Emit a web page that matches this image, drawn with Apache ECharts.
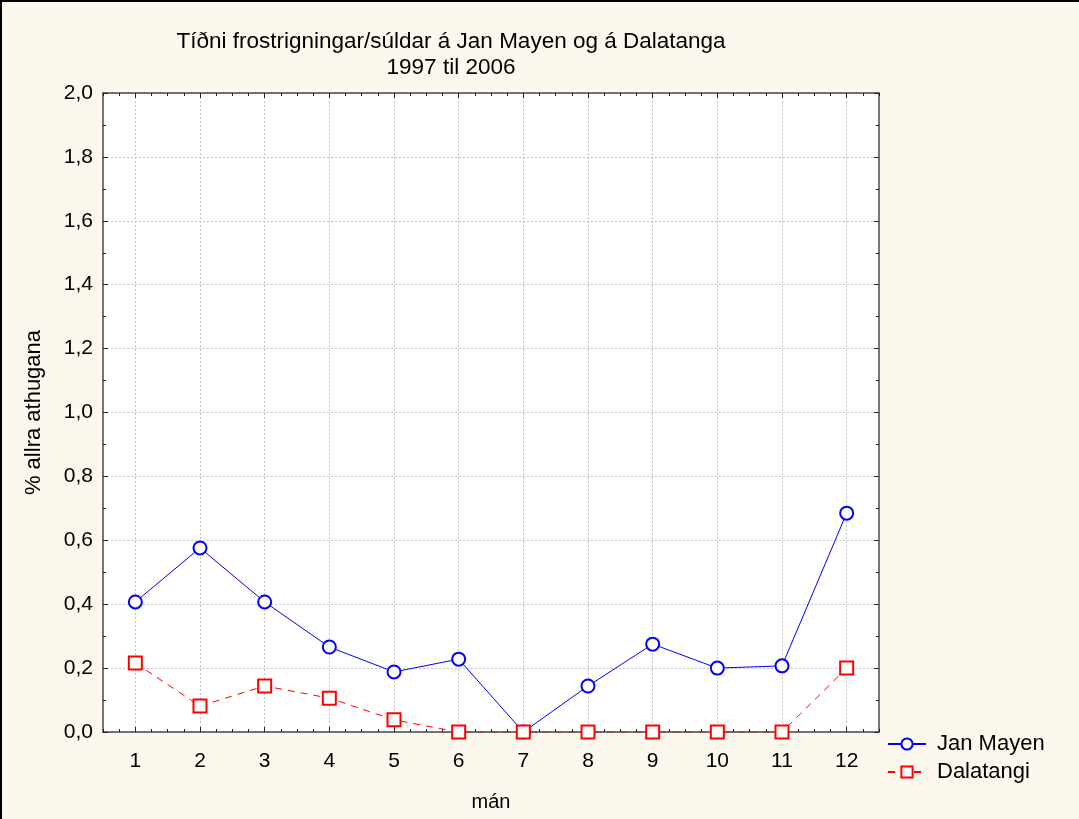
<!DOCTYPE html>
<html lang="is">
<head>
    <meta charset="UTF-8">
    <title>Tíðni frostrigningar/súldar</title>
    <style>
        html, body { margin: 0; padding: 0; background: #fdf8ee; }
        #chart {
            width: 1077px; /* 2px taken by the border */
            height: 817px;
            border-left: 2px solid #000;
            border-top: 2px solid #000;
        }
    </style>
    <script src="https://cdn.jsdelivr.net/npm/echarts@6.0.0/dist/echarts.min.js"></script>
</head>
<body>
    <div id="chart"></div>

    <script type="text/javascript">
        // mánuðir 1-12
        var months = [1, 2, 3, 4, 5, 6, 7, 8, 9, 10, 11, 12];
        // % allra athugana, lesið af myndinni
        var janMayen = [0.407, 0.576, 0.407, 0.266, 0.188, 0.228, 0.0, 0.144, 0.275, 0.200, 0.207, 0.685];
        var dalatangi = [0.216, 0.081, 0.144, 0.106, 0.038, 0.0, 0.0, 0.0, 0.0, 0.0, 0.0, 0.200];

        var fontFam = '"Liberation Sans", Arial, sans-serif';
        var axisColor = '#4a4a4a';

        function pairs(vals) {
            return months.map(function (m, i) { return [m, vals[i]]; });
        }

        // major ticks / labels at the months, minor ticks every quarter
        function monthAxis(pos, showLabels) {
            return {
                type: 'value', position: pos, min: 0.5, max: 12.5,
                axisLine: { show: true, lineStyle: { color: axisColor, width: 1.5 } },
                axisTick: { show: true, inside: true, length: 5, customValues: months,
                            lineStyle: { color: '#222', width: 1 } },
                axisLabel: { show: showLabels, customValues: months, margin: 19,
                             fontSize: 21, color: '#000', fontFamily: fontFam },
                splitLine: { show: showLabels, lineStyle: { color: '#c4c4c4', type: [2, 2], width: 1 } },
                name: showLabels ? 'mán' : '', nameLocation: 'middle', nameGap: 60,
                nameTextStyle: { fontSize: 20, color: '#000', fontFamily: fontFam }
            };
        }
        function minorAxis(pos) {
            return {
                type: 'value', position: pos, min: 0.5, max: 12.5, interval: 0.25,
                axisLine: { show: false },
                axisTick: { show: true, inside: true, length: 3, lineStyle: { color: '#222', width: 1 } },
                axisLabel: { show: false },
                splitLine: { show: false }
            };
        }
        function valueAxis(pos, main) {
            return {
                type: 'value', position: pos, min: 0, max: 2, interval: 0.2,
                axisLine: { show: true, lineStyle: { color: axisColor, width: 1.5 } },
                axisTick: { show: true, inside: true, length: 5, lineStyle: { color: '#222', width: 1 } },
                minorTick: { show: true, splitNumber: 2, length: 3, lineStyle: { color: '#222', width: 1 } },
                axisLabel: {
                    show: main, margin: 10, fontSize: 21, color: '#000', fontFamily: fontFam,
                    formatter: function (v) { return v.toFixed(1).replace('.', ','); }
                },
                splitLine: { show: main, lineStyle: { color: '#c4c4c4', type: [2, 2], width: 1 } },
                name: main ? '% allra athugana' : '', nameLocation: 'middle', nameGap: 58, nameRotate: 90,
                nameTextStyle: { fontSize: 22, color: '#000', fontFamily: fontFam }
            };
        }

        var myChart = echarts.init(document.getElementById('chart'));
        var option = {
            animation: false,
            backgroundColor: '#fdf8ee',
            title: {
                text: 'Tíðni frostrigningar/súldar á Jan Mayen og á Dalatanga\n1997 til 2006',
                left: 444, top: 22, textAlign: 'center',
                textStyle: { fontSize: 22.5, fontWeight: 'normal', color: '#000', fontFamily: fontFam, lineHeight: 26 }
            },
            legend: {
                orient: 'vertical', left: 880, top: 726,
                itemWidth: 38, itemHeight: 14, itemGap: 6,
                textStyle: { fontSize: 22, color: '#000', fontFamily: fontFam, padding: [0, 0, 0, 6] },
                data: ['Jan Mayen', 'Dalatangi']
            },
            grid: { left: 101, right: 200, top: 91, bottom: 87, show: true, backgroundColor: '#fff', borderWidth: 0 },
            xAxis: [monthAxis('bottom', true), minorAxis('bottom'), monthAxis('top', false), minorAxis('top')],
            yAxis: [valueAxis('left', true), valueAxis('right', false)],
            series: [{
                name: 'Jan Mayen', type: 'line', data: pairs(janMayen),
                symbol: 'emptyCircle', symbolSize: 13,
                lineStyle: { color: '#0000ff', width: 1 },
                itemStyle: { color: '#0000ff', borderWidth: 1.8 }
            }, {
                name: 'Dalatangi', type: 'line', data: pairs(dalatangi),
                symbol: 'emptyRect', symbolSize: 13,
                lineStyle: { color: '#ff0000', width: 1, type: [7, 6] },
                itemStyle: { color: '#ff0000', borderWidth: 1.8 }
            }]
        };
        myChart.setOption(option);
    </script>
</body>
</html>
